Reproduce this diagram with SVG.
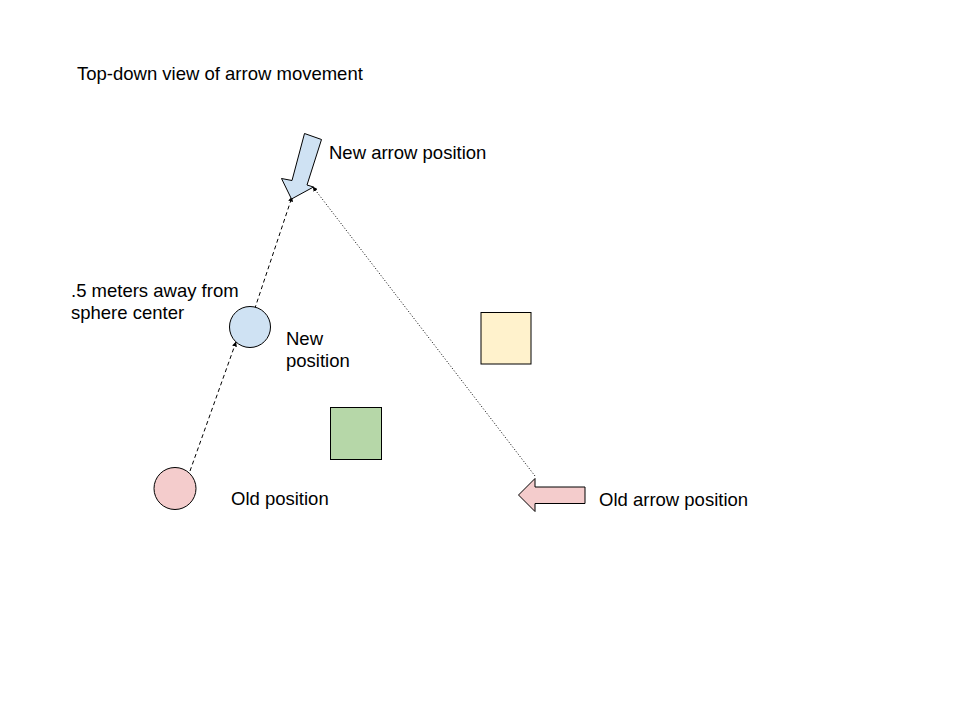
<svg xmlns="http://www.w3.org/2000/svg" width="960" height="720" viewBox="0 0 960 720">
<style>
text{font-family:"Liberation Sans",Arial,sans-serif;font-size:18.5px;fill:#000}
.sh{stroke:#000;stroke-width:1}
.ln{fill:none;stroke:#000;stroke-width:1}
</style>
<defs>
<marker id="ah" viewBox="0 0 10 10" refX="9" refY="5" markerWidth="5" markerHeight="5" orient="auto" markerUnits="userSpaceOnUse">
<path d="M0,0 L10,5 L0,10 z" fill="#000"/>
</marker>
</defs>
<rect width="960" height="720" fill="#fff"/>
<g id="connectors">
<line class="ln" x1="190" y1="471" x2="236" y2="342" stroke-dasharray="4,3" marker-end="url(#ah)"/>
<line class="ln" x1="248" y1="329" x2="292" y2="197" stroke-dasharray="4,3" marker-end="url(#ah)"/>
<line class="ln" x1="535" y1="476" x2="313" y2="187" stroke-dasharray="1,2" marker-end="url(#ah)"/>
</g>
<g id="title"><text x="77" y="80">Top-down view of arrow movement</text></g>
<g id="new-arrow">
<polygon class="sh" fill="#cfe2f3" points="304.5,133.5 321.5,139.5 307,185 313.5,187 291.5,199 281.5,178.5 292,180.5"/>
<text x="329" y="159">New arrow position</text>
</g>
<g id="old-arrow">
<polygon class="sh" fill="#f4cccc" points="518.5,495 535,478.5 535,487 585,487 585,503.5 535,503.5 535,511.5"/>
<text x="599" y="506">Old arrow position</text>
</g>
<g id="new-sphere">
<circle class="sh" fill="#cfe2f3" cx="250" cy="327" r="20.5"/>
<text x="286" y="345">New</text>
<text x="286" y="367">position</text>
</g>
<g id="old-sphere">
<circle class="sh" fill="#f4cccc" cx="175" cy="488.5" r="21"/>
<text x="231" y="505">Old position</text>
</g>
<g id="note">
<text x="71" y="297">.5 meters away from</text>
<text x="71" y="319">sphere center</text>
</g>
<g id="yellow-box"><rect class="sh" fill="#fff2cc" x="481" y="312.5" width="50" height="51.5"/></g>
<g id="green-box"><rect class="sh" fill="#b6d7a8" x="330.5" y="407.5" width="51" height="52"/></g>
</svg>
